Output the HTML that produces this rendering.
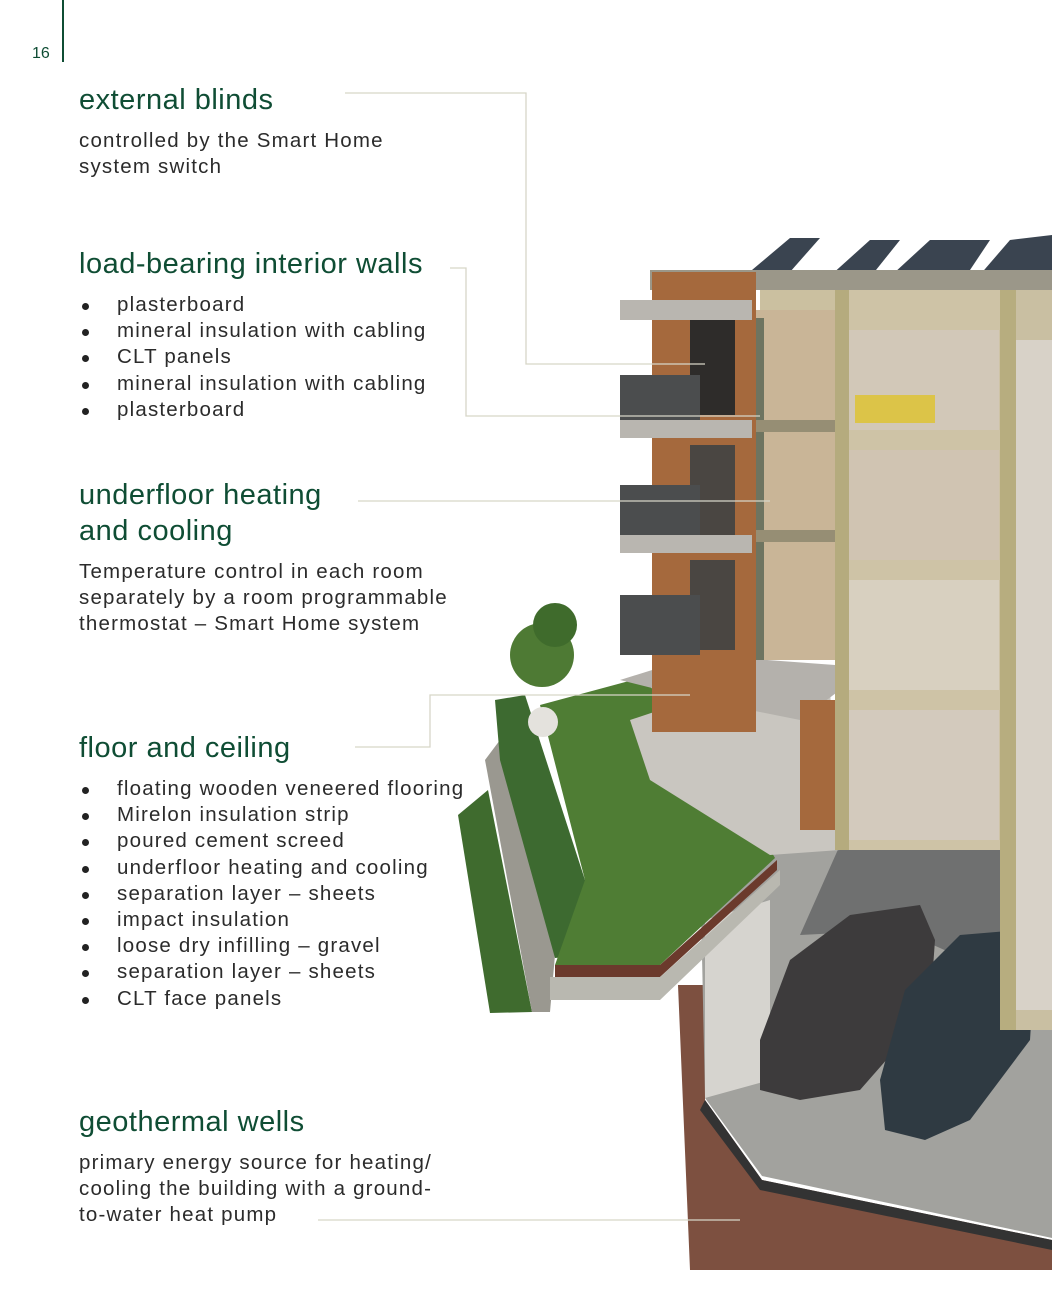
<!DOCTYPE html>
<html><head><meta charset="utf-8"><style>
body{margin:0;background:#fff;}
#p{position:relative;width:1052px;height:1300px;overflow:hidden;background:#fff;font-family:"Liberation Sans",sans-serif;}
.h{position:absolute;left:79px;color:#0f4d34;font-size:29px;line-height:36px;letter-spacing:0.5px;white-space:nowrap;}
.t{position:absolute;left:79px;color:#2b2b2b;font-size:20.5px;line-height:26.2px;white-space:nowrap;letter-spacing:1.2px;}
.b{position:absolute;left:79px;color:#2b2b2b;font-size:20.5px;line-height:26.2px;white-space:nowrap;letter-spacing:1.2px;}
.b div{padding-left:38px;position:relative;}
.b div:before{content:"";position:absolute;left:3px;top:11px;width:7px;height:7px;border-radius:50%;background:#222;}
svg{position:absolute;left:0;top:0;}
</style></head><body><div id="p">
<svg width="1052" height="1300" viewBox="0 0 1052 1300">
<polygon points="678,985 705,985 705,1100 762,1180 1052,1240 1052,1270 690,1270" fill="#7d5040"/>
<polygon points="705,1100 762,1180 1052,1240 1052,1250 760,1190 700,1110" fill="#333"/>
<polygon points="700,860 840,845 1000,850 1052,880 1052,1238 762,1176 705,1098" fill="#a2a29e"/>
<polygon points="705,920 770,900 770,1080 705,1098" fill="#d6d4cf"/>
<polygon points="840,845 1000,850 1000,975 900,930 800,935" fill="#6f7070"/>
<path d="M760,1040 L790,960 L850,915 L920,905 L935,940 L930,1010 L860,1090 L800,1100 L760,1090Z" fill="#3d3b3c"/>
<path d="M880,1080 L905,990 L960,935 L1020,930 L1035,960 L1030,1040 L970,1120 L925,1140 L885,1130Z" fill="#2f3a42"/>
<polygon points="458,815 488,790 532,1012 490,1013" fill="#3f6b2e"/>
<polygon points="485,760 500,740 555,955 550,1012 532,1012" fill="#9a9890"/>
<polygon points="495,700 525,695 585,880 585,955 555,958 500,760" fill="#3d6a30"/>
<polygon points="540,705 640,678 700,730 775,858 660,965 555,965 585,880" fill="#4f7d34"/>
<polygon points="555,965 660,965 777,860 777,870 660,977 555,977" fill="#6b3a2c"/>
<polygon points="550,977 660,977 780,870 780,885 660,1000 550,1000" fill="#b9b8b0"/>
<polygon points="630,720 690,700 830,690 840,850 770,855 650,780" fill="#c9c6c0"/>
<polygon points="620,680 700,655 835,665 840,690 800,720 700,700" fill="#b4b1ac"/>
<circle cx="542" cy="655" r="32" fill="#4e7a34"/><circle cx="555" cy="625" r="22" fill="#3f6b2c"/>
<ellipse cx="543" cy="722" rx="15" ry="15" fill="#e4e2dd"/>
<polygon points="752,270 790,238 820,238 790,272" fill="#3a4450"/>
<polygon points="820,285 870,240 900,240 860,290" fill="#3a4450"/>
<polygon points="870,295 930,240 990,240 950,300" fill="#3a4450"/>
<polygon points="960,298 1010,240 1052,235 1052,300" fill="#3a4450"/>
<rect x="650" y="270" width="402" height="20" fill="#9b9789"/>
<rect x="760" y="290" width="292" height="30" fill="#cbc0a0"/>
<rect x="652" y="272" width="104" height="460" fill="#a5693d"/>
<rect x="690" y="320" width="45" height="95" fill="#2e2c2a"/>
<rect x="690" y="445" width="45" height="90" fill="#4a4642"/>
<rect x="690" y="560" width="45" height="90" fill="#4a4642"/>
<rect x="620" y="300" width="132" height="20" fill="#b9b6b0"/>
<rect x="620" y="375" width="80" height="55" fill="#4b4d4e"/>
<rect x="620" y="420" width="132" height="18" fill="#b9b6b0"/>
<rect x="620" y="485" width="80" height="55" fill="#4b4d4e"/>
<rect x="620" y="535" width="132" height="18" fill="#b9b6b0"/>
<rect x="620" y="595" width="80" height="60" fill="#4b4d4e"/>
<rect x="756" y="310" width="80" height="350" fill="#c9b597"/>
<rect x="756" y="318" width="8" height="342" fill="#6e7460"/>
<rect x="756" y="420" width="80" height="12" fill="#968e74"/>
<rect x="756" y="530" width="80" height="12" fill="#968e74"/>
<rect x="835" y="290" width="175" height="560" fill="#cec3a6"/>
<rect x="835" y="290" width="14" height="560" fill="#b5ab7e"/>
<rect x="849" y="330" width="150" height="100" fill="#d2c8b8"/>
<rect x="849" y="450" width="150" height="110" fill="#d0c4b2"/>
<rect x="849" y="580" width="150" height="110" fill="#d8d0c0"/>
<rect x="849" y="710" width="150" height="130" fill="#d3cabd"/>
<rect x="855" y="395" width="80" height="28" fill="#dcc448"/>
<rect x="1000" y="290" width="52" height="740" fill="#c9bfa2"/>
<rect x="1000" y="290" width="16" height="740" fill="#b7ad7f"/>
<rect x="1016" y="340" width="36" height="670" fill="#d8d2c8"/>
<rect x="800" y="700" width="35" height="130" fill="#a5693d"/>
<g fill="none" stroke="#d7d6c8" stroke-width="1.3">
<polyline points="345,93 526,93 526,364 705,364"/>
<polyline points="450,268 466,268 466,416 760,416"/>
<polyline points="358,501 770,501"/>
<polyline points="355,747 430,747 430,695 690,695"/>
<polyline points="318,1220 740,1220"/>
</g>
<rect x="62" y="0" width="2" height="62" fill="#0f4d34"/>
</svg>
<div style="position:absolute;left:32px;top:45px;font-size:16px;color:#0f4d34;">16</div>
<div class="h" style="top:82px">external blinds</div>
<div class="t" style="top:128px">controlled by the Smart Home<br>system switch</div>
<div class="h" style="top:246px">load-bearing interior walls</div>
<div class="b" style="top:292px"><div>plasterboard</div><div>mineral insulation with cabling</div><div>CLT panels</div><div>mineral insulation with cabling</div><div>plasterboard</div></div>
<div class="h" style="top:477px">underfloor heating<br>and cooling</div>
<div class="t" style="top:559px">Temperature control in each room<br>separately by a room programmable<br>thermostat – Smart Home system</div>
<div class="h" style="top:730px">floor and ceiling</div>
<div class="b" style="top:776px"><div>floating wooden veneered flooring</div><div>Mirelon insulation strip</div><div>poured cement screed</div><div>underfloor heating and cooling</div><div>separation layer – sheets</div><div>impact insulation</div><div>loose dry infilling – gravel</div><div>separation layer – sheets</div><div>CLT face panels</div></div>
<div class="h" style="top:1104px">geothermal wells</div>
<div class="t" style="top:1150px">primary energy source for heating/<br>cooling the building with a ground-<br>to-water heat pump</div>
</div></body></html>
